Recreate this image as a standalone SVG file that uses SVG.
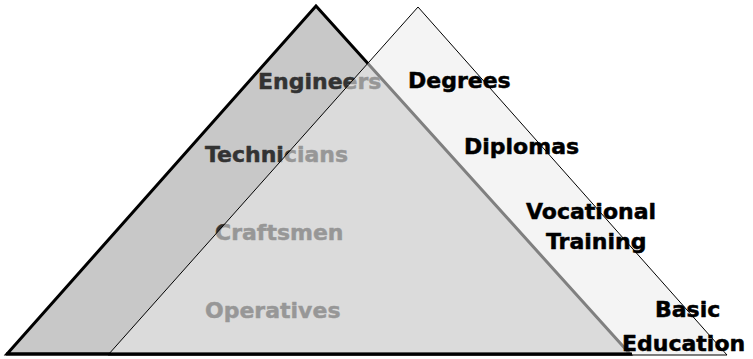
<svg xmlns="http://www.w3.org/2000/svg" width="753" height="359" viewBox="0 0 753 359">
  <style>
    text { font-family: "DejaVu Sans", Verdana, sans-serif; font-weight: bold; font-size: 22px; stroke-width: 0.5px; stroke-linejoin: round; }
    .workforce { fill: #333333; stroke: #333333; }
    .award { fill: #000000; stroke: #000000; }
  </style>
  <rect width="753" height="359" fill="#ffffff"/>

  <!-- Workforce pyramid (left) -->
  <g id="workforce-pyramid">
    <polygon points="316,6 7,354 630,354" fill="#c8c8c8" stroke="#000000" stroke-width="3" stroke-linejoin="miter"/>
  </g>
  <g id="workforce-labels">
    <text id="engineers" class="workforce" x="258" y="89">Engineers</text>
    <text id="technicians" class="workforce" x="205" y="162">Technicians</text>
    <text id="craftsmen" class="workforce" x="215" y="240">Craftsmen</text>
    <text id="operatives" class="workforce" x="205" y="318">Operatives</text>
  </g>

  <!-- Qualification pyramid (right), translucent over the left one -->
  <g id="qualification-pyramid">
    <polygon points="418,7 108,355 727,355" fill="#ebebeb" fill-opacity="0.545" stroke="#000000" stroke-width="1"/>
  </g>

  <!-- shared base line -->
  <g id="connectors">
    <line x1="6" y1="354" x2="632" y2="354" stroke="#000000" stroke-width="3"/>
  </g>

  <g id="qualification-labels">
    <text id="degrees" class="award" x="408" y="88">Degrees</text>
    <text id="diplomas" class="award" x="464" y="154">Diplomas</text>
    <text id="vocational" class="award" x="526" y="219">Vocational</text>
    <text id="training" class="award" x="546" y="249">Training</text>
    <text id="basic" class="award" x="655" y="317">Basic</text>
    <text id="education" class="award" x="622" y="351">Education</text>
  </g>
</svg>
